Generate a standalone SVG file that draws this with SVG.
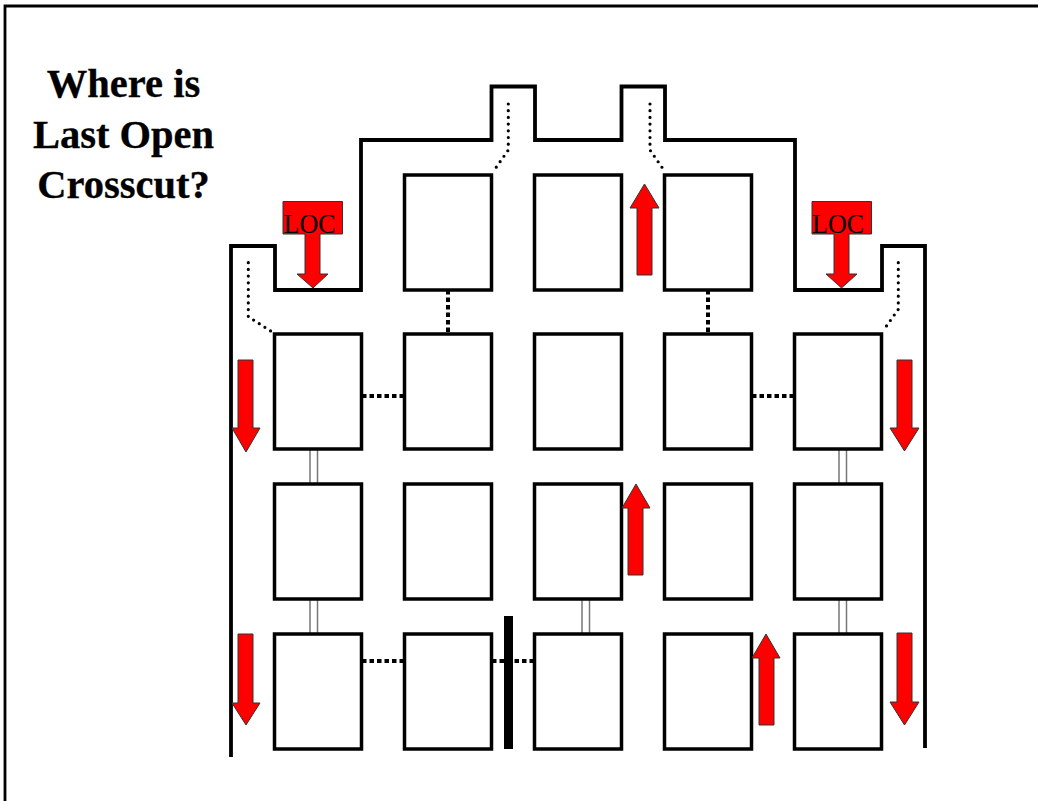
<svg xmlns="http://www.w3.org/2000/svg" width="1038" height="801" viewBox="0 0 1038 801">
<style>
.b{fill:#fff;stroke:#000;stroke-width:3.500}
.w{fill:none;stroke:#000;stroke-width:3.800}
.f{fill:none;stroke:#000;stroke-width:2.800}
.a{fill:#f00;stroke:#333;stroke-width:1}
.c{fill:#fff;stroke:#777;stroke-width:1.500}
.d{fill:none;stroke:#000;stroke-width:4;stroke-dasharray:4.500 3}
.t{fill:none;stroke:#000;stroke-width:3.200;stroke-linecap:round;stroke-dasharray:0 6.700}
.h{font-family:"Liberation Serif",serif;font-weight:bold;font-size:40.500px;text-anchor:middle;stroke:#000;stroke-width:.3}
.l{font-family:"Liberation Serif",serif;font-size:27.500px}
</style>
<rect width="1038" height="801" fill="#fff"/>
<path id="frame" class="f" d="M5 801V6H1038"/>
<g id="title"><text class="h" x="123.500" y="97">Where is</text><text class="h" x="123.500" y="148">Last Open</text><text class="h" x="123.500" y="198">Crosscut?</text></g>
<path id="outline" class="w" d="M231 757V246H275V290H361V140H491.500V86.500H535V140H621.500V86.500H665V140H795V290H882V246H925V748"/>
<g id="connectors">
<path class="c" d="M310 447h7.500v38h-7.500zM839 447h7.500v38h-7.500zM310 597h7.500v38h-7.500zM582 597h7.500v38h-7.500zM839 597h7.500v38h-7.500z"/>
<path class="d" d="M448 290V334M708 290V334M362 396H404M752 396H794M362 661H404M492 661H534"/>
<path class="t" d="M248.300 262.700V316.700L270.700 331M508.300 104V150L492.700 172.300M650 104V150L665 171.700M898.300 262.700V309.300L882.700 331.300"/>
<rect id="barrier" x="504" y="616" width="9" height="133" fill="#000"/>
</g>
<g id="n1"><rect class="b" x="404.500" y="175" width="87" height="115"/></g>
<g id="n2"><rect class="b" x="534.500" y="175" width="87" height="115"/></g>
<g id="n3"><rect class="b" x="664.500" y="175" width="87" height="115"/></g>
<g id="n4"><rect class="b" x="274.500" y="334" width="87" height="115"/></g>
<g id="n5"><rect class="b" x="404.500" y="334" width="87" height="115"/></g>
<g id="n6"><rect class="b" x="534.500" y="334" width="87" height="115"/></g>
<g id="n7"><rect class="b" x="664.500" y="334" width="87" height="115"/></g>
<g id="n8"><rect class="b" x="794.500" y="334" width="87" height="115"/></g>
<g id="n9"><rect class="b" x="274.500" y="484" width="87" height="115"/></g>
<g id="n10"><rect class="b" x="404.500" y="484" width="87" height="115"/></g>
<g id="n11"><rect class="b" x="534.500" y="484" width="87" height="115"/></g>
<g id="n12"><rect class="b" x="664.500" y="484" width="87" height="115"/></g>
<g id="n13"><rect class="b" x="794.500" y="484" width="87" height="115"/></g>
<g id="n14"><rect class="b" x="274.500" y="634" width="87" height="115"/></g>
<g id="n15"><rect class="b" x="404.500" y="634" width="87" height="115"/></g>
<g id="n16"><rect class="b" x="534.500" y="634" width="87" height="115"/></g>
<g id="n17"><rect class="b" x="664.500" y="634" width="87" height="115"/></g>
<g id="n18"><rect class="b" x="794.500" y="634" width="87" height="115"/></g>
<g id="arrows">
<path class="a" d="M283 201.500H342.500V234H320V274H328L313 288L297 274H305V234H283Z"/>
<path class="a" d="M812 201.500H871.500V234H849V274H857L841.500 288L826 274H834V234H812Z"/>
<path class="a" d="M238 360H253V428H260L246 452L232 428H238Z"/>
<path class="a" d="M238 634H253V703H260L246 725L232 703H238Z"/>
<path class="a" d="M897 360H912V428H919L904.500 451L890 428H897Z"/>
<path class="a" d="M897 633H912V702H919L904.500 725L890 702H897Z"/>
<path class="a" d="M637 275H652V208H659L644.500 184L630 208H637Z"/>
<path class="a" d="M628 575H643V508H650L636 484L622 508H628Z"/>
<path class="a" d="M759 725H774V658H780L766 634L752 658H759Z"/>
</g>
<text class="l" x="283.500" y="232.500" textLength="52" lengthAdjust="spacingAndGlyphs">LOC</text>
<text class="l" x="812" y="232.500" textLength="52" lengthAdjust="spacingAndGlyphs">LOC</text>
</svg>
